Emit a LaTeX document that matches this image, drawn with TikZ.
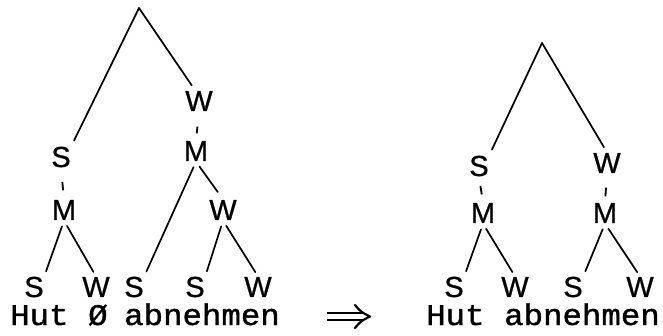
\documentclass[tikz,border=0pt]{standalone}
\usepackage{fontspec}
\newfontfamily\labfont{Liberation Sans}[FakeBold=0.8]
\newfontfamily\twfont{Liberation Mono}[FakeBold=1.2]
\begin{document}
\begin{tikzpicture}[x=1pt,y=-1pt,
  lab/.style={rectangle,inner sep=0.5pt,font=\labfont\fontsize{29}{29}\selectfont},
  br/.style={line width=1.7pt,line cap=round,shorten <=6pt,shorten >=5pt},
  rootbr/.style={line width=1.7pt,line cap=round,shorten >=6pt},
  tick/.style={line width=1.8pt},
  word/.style={anchor=base west,inner sep=0pt,font=\twfont\fontsize{30}{30}\selectfont},
]
\useasboundingbox (0,0) rectangle (663,335);
% ---------- left tree ----------
\coordinate (r1) at (139,8);
\node[lab] (s1) at (61,157) {S};
\node[lab] (m1) at (64,210) {M};
\node[lab] (w1) at (199,101) {W};
\node[lab] (m2) at (196,151) {M};
\node[lab] (w2) at (223,210) {W};
\node[lab] (sA) at (34,287) {S};
\node[lab] (wA) at (96,287) {W};
\node[lab] (sB) at (134,287) {S};
\node[lab] (sC) at (195,287) {S};
\node[lab] (wC) at (258,287) {W};
\draw[rootbr] (r1) -- (s1.north east);
\draw[rootbr] (r1) -- (w1.110);
\draw[tick,shorten <=14pt,shorten >=9pt] (s1.south) -- (m1.north);
\draw[tick,shorten <=15pt,shorten >=7pt] (w1.south) -- (m2.north);
\draw[br] (m1.south) -- (sA.north east);
\draw[br] (m1.south) -- (wA.north);
\draw[br] (m2.south) -- (sB.north east);
\draw[br,shorten >=9pt] (m2.south) -- (w2.north);
\draw[br] (w2.south) -- (sC.north east);
\draw[br] (w2.south) -- (wC.north);
% ---------- right tree ----------
\coordinate (r2) at (542,43);
\node[lab] (s3) at (479,166) {S};
\node[lab] (m3) at (483,213) {M};
\node[lab] (w3) at (607,163) {W};
\node[lab] (m4) at (605,213) {M};
\node[lab] (sD) at (454,287) {S};
\node[lab] (wD) at (515,287) {W};
\node[lab] (sE) at (573,287) {S};
\node[lab] (wE) at (640,287) {W};
\draw[rootbr] (r2) -- (s3.north east);
\draw[rootbr] (r2) -- (w3.north);
\draw[tick,shorten <=9pt,shorten >=8pt] (s3.south) -- (m3.north);
\draw[tick,shorten <=14pt,shorten >=6pt] (w3.south) -- (m4.north);
\draw[br] (m3.south) -- (sD.north east);
\draw[br] (m3.south) -- (wD.north);
\draw[br] (m4.south) -- (sE.north east);
\draw[br] (m4.south) -- (wE.north);
% ---------- words ----------
\node[word] (t1) at (10,325) {\scalebox{1.08}[1]{Hut}};
\node[word] (t2) at (88,325) {\scalebox{1.08}[1]{Ø}};
\node[word] (t3) at (124,325) {\scalebox{1.08}[1]{abnehmen}};
% implication arrow
\draw[line width=2.2pt] (327,313) -- (363,313) (327,320) -- (363,320);
\draw[line width=2.2pt,line cap=round,line join=round] (355,305) .. controls (361,312) .. (370,316.5) .. controls (361,321) .. (355,328);
\node[word] (t4) at (426,325) {\scalebox{1.08}[1]{Hut}};
\node[word] (t5) at (504,325) {\scalebox{1.08}[1]{abnehmen}};
\end{tikzpicture}
\end{document}
